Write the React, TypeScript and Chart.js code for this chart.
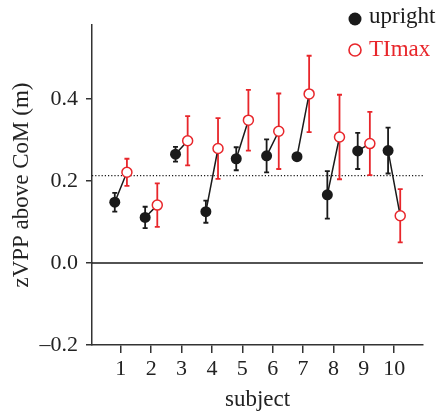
import React, { useEffect, useRef } from "react";
import { Chart, registerables } from "chart.js";

Chart.register(...registerables);

const subjects = [1, 2, 3, 4, 5, 6, 7, 8, 9, 10];
const uprightMean = [0.148, 0.111, 0.265, 0.125, 0.254, 0.261, 0.259, 0.166, 0.273, 0.274];
const uprightErr = [0.023, 0.026, 0.018, 0.027, 0.028, 0.04, 0.004, 0.058, 0.044, 0.056];
const timaxMean = [0.221, 0.141, 0.298, 0.279, 0.348, 0.321, 0.412, 0.307, 0.291, 0.115];
const timaxErr = [0.033, 0.053, 0.06, 0.074, 0.074, 0.092, 0.093, 0.103, 0.077, 0.065];
const xTicks = [1, 2, 3, 4, 5, 6, 7, 8, 9, 10];
const yTicks = [-0.2, 0, 0.2, 0.4];
const threshold = 0.213;
const pairOffset = 0.2;

const RED = "#e8262b";
const BLACK = "#1a1a1a";
const AXIS = "#333333";
const FONT = "'Liberation Serif', 'DejaVu Serif', serif";

const errorBarPlugin = {
  id: "errorBars",
  beforeDatasetsDraw(chart: any) {
    const { ctx, scales } = chart;
    const x = scales.x;
    const y = scales.y;
    ctx.save();
    ctx.strokeStyle = BLACK;
    ctx.lineWidth = 1.5;
    ctx.beginPath();
    ctx.moveTo(chart.chartArea.left, y.getPixelForValue(0));
    ctx.lineTo(chart.chartArea.right, y.getPixelForValue(0));
    ctx.stroke();
    ctx.lineWidth = 1.2;
    ctx.setLineDash([1.2, 2]);
    ctx.beginPath();
    ctx.moveTo(chart.chartArea.left, y.getPixelForValue(threshold));
    ctx.lineTo(chart.chartArea.right, y.getPixelForValue(threshold));
    ctx.stroke();
    ctx.setLineDash([]);

    chart.data.datasets.forEach((ds: any) => {
      if (!ds.errors) return;
      ctx.strokeStyle = ds.errColor;
      ctx.lineWidth = 1.8;
      ds.data.forEach((p: any, i: number) => {
        const e = ds.errors[i];
        const px = x.getPixelForValue(p.x);
        const top = y.getPixelForValue(p.y + e);
        const bot = y.getPixelForValue(p.y - e);
        ctx.beginPath();
        ctx.moveTo(px, top);
        ctx.lineTo(px, bot);
        ctx.moveTo(px - 2.5, top);
        ctx.lineTo(px + 2.5, top);
        ctx.moveTo(px - 2.5, bot);
        ctx.lineTo(px + 2.5, bot);
        ctx.stroke();
      });
    });
    ctx.restore();
  },
};

const legendPlugin = {
  id: "customLegend",
  afterDraw(chart: any) {
    const { ctx } = chart;
    ctx.save();
    ctx.font = `23px ${FONT}`;
    ctx.textBaseline = "middle";
    ctx.textAlign = "left";
    ctx.fillStyle = BLACK;
    ctx.beginPath();
    ctx.arc(355, 19, 6.5, 0, Math.PI * 2);
    ctx.fill();
    ctx.fillText("upright", 369, 17);
    ctx.strokeStyle = RED;
    ctx.lineWidth = 1.6;
    ctx.fillStyle = "#fff";
    ctx.beginPath();
    ctx.arc(355, 50, 6, 0, Math.PI * 2);
    ctx.fill();
    ctx.stroke();
    ctx.fillStyle = RED;
    ctx.fillText("TImax", 369, 50);
    ctx.restore();
  },
};

export default function App() {
  const ref = useRef<HTMLCanvasElement>(null);
  useEffect(() => {
    document.body.style.margin = "0";
    const uprightPts = subjects.map((s, i) => ({ x: s - pairOffset, y: uprightMean[i] }));
    const timaxPts = subjects.map((s, i) => ({ x: s + pairOffset, y: timaxMean[i] }));
    const connector: any[] = [];
    subjects.forEach((s, i) => {
      connector.push(uprightPts[i], timaxPts[i], { x: s + 0.5, y: null });
    });
    const tickFont = { family: FONT, size: 22 };
    const chart = new Chart(ref.current!, {
      type: "scatter",
      data: {
        datasets: [
          {
            label: "upright",
            data: uprightPts,
            backgroundColor: BLACK,
            borderColor: BLACK,
            pointRadius: 5.5,
            borderWidth: 0,
            errors: uprightErr,
            errColor: BLACK,
            order: 1,
          } as any,
          {
            label: "TImax",
            data: timaxPts,
            backgroundColor: "#ffffff",
            borderColor: RED,
            pointRadius: 5,
            borderWidth: 1.5,
            errors: timaxErr,
            errColor: RED,
            order: 1,
          } as any,
          {
            label: "pairs",
            data: connector,
            showLine: true,
            spanGaps: false,
            borderColor: BLACK,
            borderWidth: 1.5,
            pointRadius: 0,
            order: 3,
          } as any,
        ],
      },
      options: {
        animation: false,
        responsive: false,
        layout: { padding: { top: 25, right: 19, left: 0, bottom: 0 } },
        plugins: { legend: { display: false }, tooltip: { enabled: false } },
        scales: {
          x: {
            type: "linear",
            min: 0.05,
            max: 10.95,
            afterBuildTicks: (s: any) => {
              s.ticks = xTicks.map((v) => ({ value: v }));
            },
            afterFit: (s: any) => {
              s.height = 73;
            },
            grid: { drawOnChartArea: false, tickLength: 8, color: AXIS, lineWidth: 1.5 },
            border: { color: AXIS, width: 1.5 },
            ticks: { font: tickFont, color: "#222", padding: 3, maxRotation: 0 },
            title: { display: true, text: "subject", font: { family: FONT, size: 23 }, color: "#222", padding: { top: 2 } },
          },
          y: {
            min: -0.2,
            max: 0.58,
            afterBuildTicks: (s: any) => {
              s.ticks = yTicks.map((v) => ({ value: v }));
            },
            afterFit: (s: any) => {
              s.width = 92;
            },
            grid: { drawOnChartArea: false, tickLength: 6, color: AXIS, lineWidth: 1.5 },
            border: { color: AXIS, width: 1.5 },
            ticks: {
              font: tickFont,
              color: "#222",
              padding: 8,
              callback: (v: any) => (v < 0 ? "\u2013" + Math.abs(v).toFixed(1) : Number(v).toFixed(1)),
            },
            title: { display: true, text: "zVPP above CoM (m)", font: { family: FONT, size: 23 }, color: "#222", padding: { top: 8, bottom: 0 } },
          },
        },
      },
      plugins: [errorBarPlugin, legendPlugin],
    });
    return () => chart.destroy();
  }, []);
  return <canvas ref={ref} width={442} height={418} style={{ display: "block" }} />;
}
